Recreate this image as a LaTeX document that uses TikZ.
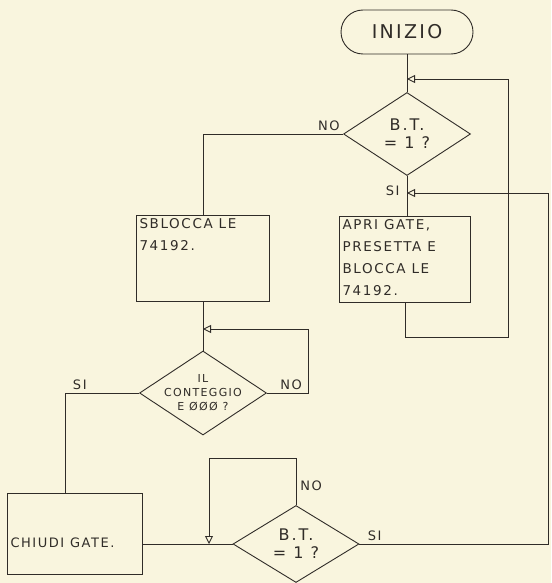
\documentclass[tikz,border=0pt]{standalone}
\usepackage{fontspec}
\setmainfont[LetterSpace=12]{DejaVu Sans}
\usetikzlibrary{arrows.meta, shapes.geometric}
\definecolor{paper}{RGB}{249,245,222}
\definecolor{ink}{RGB}{48,44,40}
\tikzset{
  every picture/.style={line width=0.9pt, color=ink},
  term/.style={draw, rounded corners=22pt, minimum width=132pt, minimum height=44pt, font=\fontsize{19}{19}\selectfont},
  decision/.style={draw, diamond, inner sep=0pt, align=center, minimum width=127pt, minimum height=#1},
  decision/.default=83pt,
  proc/.style={draw, rectangle, inner sep=3pt, font=\fontsize{13.5}{22}\selectfont},
  flow/.style={-{Triangle[open, length=8pt, width=8pt]}},
  tag/.style={font=\fontsize{13}{13}\selectfont, inner sep=1pt},
}
\newcommand{\boxtext}[3]{\parbox[c][#1][t]{#2}{\raggedright #3}}

\begin{document}
\begin{tikzpicture}[x=1pt, y=-1pt]
  \fill[paper] (0,0) rectangle (551,583);
  \useasboundingbox (0,0) rectangle (551,583);

  % nodes
  \node[term] (start) at (407,32) {INIZIO};
  \node[decision, font=\fontsize{16}{18}\selectfont] (test1) at (407,134) {B.T.\\= 1 ?};
  \node[proc] (unlock) at (203,258) {\boxtext{80pt}{127pt}{SBLOCCA LE\\74192.}};
  \node[proc] (preset) at (405,259) {\boxtext{80pt}{125pt}{APRI GATE,\\PRESETTA E\\BLOCCA LE\\74192.}};
  \node[decision=84pt, inner sep=-10pt, font=\fontsize{11}{14}\selectfont] (test2) at (203,393) {IL\\CONTEGGIO\\E ØØØ ?};
  \node[proc, font=\fontsize{13}{14}\selectfont] (close) at (75,534) {\boxtext{75pt}{129pt}{\vspace*{41pt}CHIUDI GATE.}};
  \node[decision=77pt, minimum width=126pt, font=\fontsize{16}{18}\selectfont] (test3) at (296,544) {B.T.\\= 1 ?};

  % join points
  \coordinate (j1) at (407,79);
  \coordinate (j1b) at (407,193);
  \coordinate (j2) at (203,329);
  \coordinate (j3) at (209,544);

  % connectors
  \draw (start) -- (test1);
  \draw (test1.south) -- (test1.south |- preset.north);
  \draw (test1.west) -| (unlock.north);
  \draw (unlock) -- (test2);
  \draw (test2.west) -| node[tag, pos=0.4, above=2pt] (si2) {SI} ([xshift=-10pt]close.north);
  \draw (close.east |- test3.west) -- (test3.west);
  \draw[flow] (preset.south) |- (508,337) |- (j1);
  \draw[flow] (test2.east) -| (308,329) -- (j2);
  \draw[flow] (test3.north) |- node[tag, pos=0.2, right=3pt] (no3) {NO} (209,458) -- (j3);
  \draw[flow] (test3.east) -| (548,193) -- (j1b);

  % labels
  \node[tag, anchor=south east] (no1) at ([xshift=-2pt, yshift=2pt]test1.west) {NO};
  \node[tag, anchor=north east] (si1) at ([xshift=-6pt, yshift=-8pt]test1.south) {SI};
  \node[tag, anchor=south west] (no2) at ([xshift=12pt, yshift=2pt]test2.east) {NO};
  \node[tag, anchor=south west] (si3) at ([xshift=7pt, yshift=2pt]test3.east) {SI};
\end{tikzpicture}
\end{document}
